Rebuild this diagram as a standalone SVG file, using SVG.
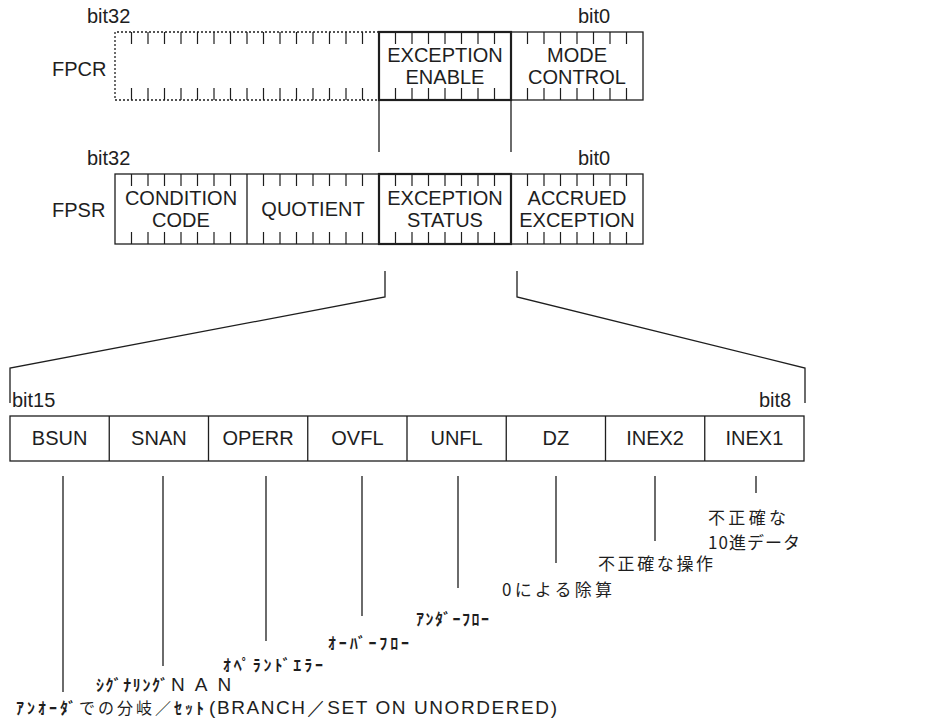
<svg xmlns="http://www.w3.org/2000/svg" width="951" height="719" viewBox="0 0 951 719">
<style>
.t{font-family:"Liberation Sans",Arial,sans-serif;font-size:20px;fill:#1e1e1e}
.s{font-size:19px}
.c{text-anchor:middle}
.j{font-family:"Noto Sans CJK JP",sans-serif;font-size:17px;fill:#1e1e1e}
.k{font-family:"Noto Sans CJK JP",sans-serif;font-size:16px;font-weight:700;fill:#1e1e1e}
.ln{stroke:#1e1e1e;stroke-width:1.3;fill:none}
.bd{stroke:#1e1e1e;stroke-width:2.2;fill:none}
.dt{stroke:#1e1e1e;stroke-width:1.3;fill:none;stroke-dasharray:2 2}
.tk{stroke:#1e1e1e;stroke-width:1.2}
</style>
<rect width="951" height="719" fill="#fff"/>
<defs>
<g id="ticks8">
<path class="tk" d="M16.5 0v12M33 0v12M49.5 0v12M66 0v12M82.5 0v12M99 0v12M115.5 0v12"/>
</g>
</defs>

<g id="fpcr">
<text class="t" x="87" y="23">bit32</text>
<text class="t" x="578" y="23">bit0</text>
<text class="t" x="52" y="76">FPCR</text>
<path class="dt" d="M379 32H115V100H379"/>
<rect class="ln" x="511" y="32" width="132" height="68"/>
<use href="#ticks8" x="115" y="32"/><use href="#ticks8" x="247" y="32"/>
<use href="#ticks8" x="115" y="88"/><use href="#ticks8" x="247" y="88"/>
<path class="tk" d="M247 32v12M247 88v12"/>
<use href="#ticks8" x="379" y="32"/><use href="#ticks8" x="379" y="88"/>
<use href="#ticks8" x="511" y="32"/><use href="#ticks8" x="511" y="88"/>
<rect class="bd" x="379" y="32" width="132" height="68"/>
<text class="t c" x="445" y="62">EXCEPTION</text>
<text class="t c" x="445" y="84">ENABLE</text>
<text class="t c" x="577" y="62">MODE</text>
<text class="t c" x="577" y="84">CONTROL</text>
</g>

<g id="fpsr">
<text class="t" x="87" y="165">bit32</text>
<text class="t" x="578" y="165">bit0</text>
<text class="t" x="52" y="217">FPSR</text>
<rect class="ln" x="115" y="174" width="528" height="70"/>
<path class="ln" d="M247 174V244"/>
<use href="#ticks8" x="115" y="174"/><use href="#ticks8" x="247" y="174"/><use href="#ticks8" x="379" y="174"/><use href="#ticks8" x="511" y="174"/>
<use href="#ticks8" x="115" y="232"/><use href="#ticks8" x="247" y="232"/><use href="#ticks8" x="379" y="232"/><use href="#ticks8" x="511" y="232"/>
<rect class="bd" x="379" y="174" width="132" height="70"/>
<text class="t c" x="181" y="205">CONDITION</text>
<text class="t c" x="181" y="227">CODE</text>
<text class="t c" x="313" y="216">QUOTIENT</text>
<text class="t c" x="445" y="205">EXCEPTION</text>
<text class="t c" x="445" y="227">STATUS</text>
<text class="t c" x="577" y="205">ACCRUED</text>
<text class="t c" x="577" y="227">EXCEPTION</text>
</g>

<g id="connectors">
<path class="ln" d="M379 100V152M511 100V152"/>
<path class="ln" d="M385 271V297L10 368V403"/>
<path class="ln" d="M517 271V297L805 368V403"/>
<path class="ln" d="M63 476V692M163 476V666M266 476V641M362 476V616M458 476V588M556 476V563M655 476V541M756 476V493"/>
</g>

<g id="exception-byte">
<text class="t" x="12" y="407">bit15</text>
<text class="t" x="759" y="407">bit8</text>
<rect class="ln" x="10" y="416" width="794" height="45"/>
<path class="ln" d="M109.25 416V461M208.5 416V461M307.75 416V461M407 416V461M506.25 416V461M605.5 416V461M704.75 416V461"/>
<text class="t c" x="59.6" y="445">BSUN</text>
<text class="t c" x="158.9" y="445">SNAN</text>
<text class="t c" x="258.1" y="445">OPERR</text>
<text class="t c" x="357.4" y="445">OVFL</text>
<text class="t c" x="456.6" y="445">UNFL</text>
<text class="t c" x="555.9" y="445">DZ</text>
<text class="t c" x="655.1" y="445">INEX2</text>
<text class="t c" x="754.4" y="445">INEX1</text>
</g>

<g id="labels">
<text class="j" x="708" y="524" textLength="78">不正確な</text>
<text class="j" x="708" y="549" textLength="92">10進データ</text>
<text class="j" x="598" y="570" textLength="115">不正確な操作</text>
<text class="j" x="502" y="596" textLength="110">0による除算</text>
<text class="k" x="416" y="625" textLength="73">ｱﾝﾀﾞｰﾌﾛｰ</text>
<text class="k" x="328" y="649" textLength="81">ｵｰﾊﾞｰﾌﾛｰ</text>
<text class="k" x="223" y="671" textLength="100">ｵﾍﾟﾗﾝﾄﾞｴﾗｰ</text>
<text class="k" x="96" y="691" textLength="72">ｼｸﾞﾅﾘﾝｸﾞ</text>
<text class="t s" x="171" y="691" letter-spacing="10">NAN</text>
<text class="k" x="16" y="714" textLength="188">ｱﾝｵｰﾀﾞ<tspan font-weight="400">での分岐／</tspan>ｾｯﾄ</text>
<text class="t s" x="209" y="714" textLength="348">(BRANCH／SET ON UNORDERED)</text>
</g>
</svg>
